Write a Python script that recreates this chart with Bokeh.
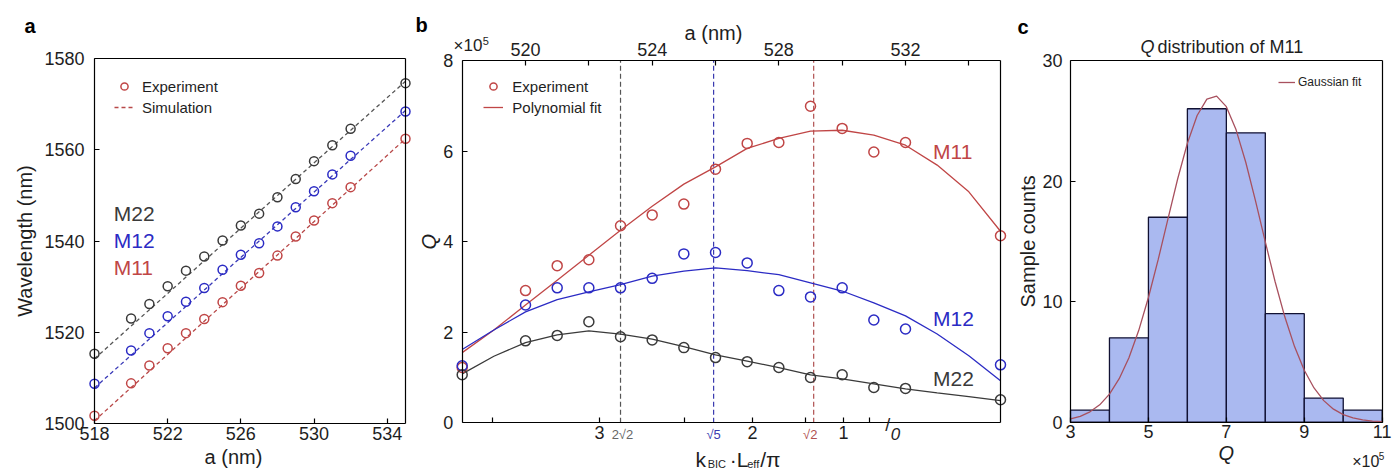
import math
from bokeh.plotting import figure
from bokeh.layouts import row
from bokeh.models import Label, Legend, LegendItem, LinearAxis, FixedTicker, Range1d
from bokeh.embed import file_html
from bokeh.resources import INLINE

FONT = "Liberation Sans"
RED = "#c04646"
BLUE = "#2b2bc4"
DARK = "#3a3a3a"
TXT = "#1e1e1e"

# ---------------- panel a : resonance wavelength vs lattice constant
a_nm = [518, 520, 521, 522, 523, 524, 525, 526, 527, 528, 529, 530, 531, 532, 535]
wl_m22 = [1515.3, 1523.0, 1526.2, 1530.1, 1533.5, 1536.6, 1540.1, 1543.4, 1546.0, 1549.6, 1553.6, 1557.5, 1561.0, 1564.6, 1574.6]
wl_m12 = [1508.7, 1516.0, 1519.8, 1523.5, 1526.7, 1529.7, 1533.7, 1537.0, 1539.5, 1543.2, 1547.4, 1550.9, 1554.6, 1558.7, 1568.4]
wl_m11 = [1501.7, 1508.8, 1512.7, 1516.5, 1519.8, 1522.9, 1526.6, 1530.2, 1533.0, 1536.8, 1541.0, 1544.5, 1548.3, 1551.8, 1562.4]
sim_a = [518, 535]
sim_m22 = [1514.2, 1575.0]
sim_m12 = [1507.8, 1568.6]
sim_m11 = [1500.6, 1562.4]
a_lim = [518, 535]
wl_lim = [1500, 1580]
a_ticks = [518, 522, 526, 530, 534]
wl_ticks = [1500, 1520, 1540, 1560, 1580]

# ---------------- panel b : Q factor (x1e5) vs lattice constant
q_m11 = [1.22, 2.92, 3.47, 3.60, 4.35, 4.59, 4.83, 5.60, 6.17, 6.19, 6.99, 6.50, 5.98, 6.19, 4.13]
q_m12 = [1.26, 2.60, 2.98, 2.98, 2.98, 3.19, 3.73, 3.76, 3.53, 2.92, 2.78, 2.98, 2.27, 2.07, 1.28]
q_m22 = [1.06, 1.81, 1.93, 2.23, 1.90, 1.83, 1.66, 1.44, 1.35, 1.22, 1.00, 1.06, 0.78, 0.76, 0.51]
fit_a = [518, 519, 520, 521, 522, 523, 524, 525, 526, 527, 528, 529, 530, 531, 532, 533, 534, 535]
fit_m11 = [1.55, 2.05, 2.60, 3.15, 3.70, 4.25, 4.78, 5.27, 5.65, 6.06, 6.28, 6.44, 6.46, 6.35, 6.13, 5.69, 5.10, 4.23]
fit_m12 = [1.62, 2.05, 2.45, 2.72, 2.89, 3.05, 3.24, 3.35, 3.42, 3.36, 3.27, 3.09, 2.91, 2.65, 2.36, 1.96, 1.48, 0.93]
fit_m22 = [1.08, 1.47, 1.77, 1.94, 2.03, 1.96, 1.85, 1.68, 1.50, 1.36, 1.22, 1.06, 0.97, 0.86, 0.75, 0.66, 0.58, 0.49]
q_lim = [0, 8]
q_ticks = [0, 2, 4, 6, 8]
top_ticks = [520, 522, 524, 526, 528, 530, 532, 534]
top_labels = ["520", "", "524", "", "528", "", "532", ""]
k_tick_pos = [518.95, 522.34, 525.03, 527.17, 528.83, 530.04, 530.86]
k_tick_labels = ["", "3", "", "2", "", "1", ""]
bic_a = [523.0, 525.94, 529.1]
bic_labels = ["2\u221a2", "\u221a5", "\u221a2"]

# ---------------- panel c : histogram of M11 Q (x1e5)
bin_left = [3, 4, 5, 6, 7, 8, 9, 10]
bin_right = [4, 5, 6, 7, 8, 9, 10, 11]
counts = [1, 7, 17, 26, 24, 9, 2, 1]
gauss_q = [3.0, 3.25, 3.5, 3.75, 4.0, 4.25, 4.5, 4.75, 5.0, 5.25, 5.5, 5.75, 6.0, 6.25, 6.5, 6.75,
           7.0, 7.25, 7.5, 7.75, 8.0, 8.25, 8.5, 8.75, 9.0, 9.25, 9.5, 9.75, 10.0, 10.25, 10.5, 10.75, 11.0]
gauss_n = [0.27, 0.49, 0.86, 1.44, 2.33, 3.61, 5.35, 7.60, 10.34, 13.48, 16.84, 20.17, 23.14, 25.44, 26.80, 27.05,
           26.17, 24.25, 21.54, 18.33, 14.95, 11.67, 8.74, 6.27, 4.31, 2.84, 1.79, 1.08, 0.63, 0.35, 0.19, 0.09, 0.05]
hq_lim = [3, 11]
cnt_lim = [0, 30]
hq_ticks = [3, 5, 7, 9, 11]
count_ticks = [0, 10, 20, 30]


def xrange_for(lim, px_lo, px_hi, width):
    s = (px_hi - px_lo) / (lim[1] - lim[0])
    return Range1d(lim[0] - px_lo / s, lim[1] + (width - px_hi) / s)


def yrange_for(lim, px_top, px_bottom, height):
    s = (px_bottom - px_top) / (lim[1] - lim[0])
    return Range1d(lim[0] - (height - px_bottom) / s, lim[1] + px_top / s)


def make_fig(width, xr, yr):
    p = figure(width=width, height=470, x_range=xr, y_range=yr, output_backend="svg",
               toolbar_location=None, min_border=0)
    p.title.visible = False
    p.xgrid.visible = False
    p.ygrid.visible = False
    p.outline_line_color = None
    p.background_fill_color = "white"
    p.border_fill_color = "white"
    return p


def style_axis(ax, ticks, fixed, bounds, standoff=4, labels=True):
    ax.ticker = FixedTicker(ticks=ticks, minor_ticks=[])
    ax.fixed_location = fixed
    ax.bounds = tuple(bounds)
    ax.axis_label = None
    ax.major_label_text_font = FONT
    ax.major_label_text_font_size = "18px" if labels else "0px"
    ax.major_label_text_color = TXT
    ax.axis_line_color = "black"
    ax.axis_line_width = 1.2
    ax.major_tick_in = 5
    ax.major_tick_out = 0
    ax.major_tick_line_color = "black"
    ax.major_tick_line_width = 1.2
    ax.minor_tick_line_color = None
    ax.major_label_standoff = standoff


def box_line(p, side, fixed, bounds):
    ax = LinearAxis()
    style_axis(ax, [], fixed, bounds, labels=False)
    p.add_layout(ax, side)
    return ax


def note(p, x, y, text, dx=0, dy=0, size="15px", color=TXT, style="normal",
         align="left", baseline="middle", angle=0.0):
    p.add_layout(Label(x=x, y=y, x_offset=dx, y_offset=dy, text=text, text_font=FONT,
                       text_font_size=size, text_color=color, text_font_style=style,
                       text_align=align, text_baseline=baseline, angle=angle))


def legend(items, loc, size, lh, gw, standoff):
    return Legend(items=items, location=loc, padding=0, margin=0, spacing=3,
                  label_height=lh, glyph_height=lh, glyph_width=gw, label_standoff=standoff,
                  border_line_alpha=0, background_fill_alpha=0,
                  label_text_font=FONT, label_text_font_size=size, label_text_color=TXT)


# ======================= panel a  (box: x 94..405, y 58..423 in a 415x470 canvas)
pa = make_fig(415, xrange_for(a_lim, 94, 405, 415), yrange_for(wl_lim, 58, 423, 470))
style_axis(pa.xaxis[0], a_ticks, wl_lim[0], a_lim, standoff=3)
style_axis(pa.yaxis[0], wl_ticks, a_lim[0], wl_lim, standoff=10)
box_line(pa, "above", wl_lim[1], a_lim)
box_line(pa, "right", a_lim[1], wl_lim)

pa.line(sim_a, sim_m22, color="#555555", line_dash="4 3", line_width=1.3)
pa.line(sim_a, sim_m12, color="#3a3ab8", line_dash="4 3", line_width=1.3)
sim11 = pa.line(sim_a, sim_m11, color="#b84848", line_dash="4 3", line_width=1.3)
pa.scatter(a_nm, wl_m22, marker="circle", size=9, fill_alpha=0, line_color=DARK, line_width=1.5)
pa.scatter(a_nm, wl_m12, marker="circle", size=9, fill_alpha=0, line_color=BLUE, line_width=1.5)
exp11 = pa.scatter(a_nm, wl_m11, marker="circle", size=9, fill_alpha=0, line_color=RED, line_width=1.5)

pa.add_layout(legend([LegendItem(label="Experiment", renderers=[exp11]),
                      LegendItem(label="Simulation", renderers=[sim11])],
                     (114, 354), "15px", 18, 20, 8))

note(pa, 519.05, 1546.0, "M22", size="21px", color=DARK)
note(pa, 519.05, 1540.1, "M12", size="21px", color=BLUE)
note(pa, 519.05, 1534.2, "M11", size="21px", color=RED)
note(pa, 518, 1500, "a (nm)", dx=139, dy=-33, size="20px", align="center")
note(pa, 518, 1540, "Wavelength (nm)", dx=-70, size="20px", align="center", angle=math.pi / 2)
note(pa, 518, 1580, "a", dx=-70, dy=33, size="20px", style="bold", color="black")

# ======================= panel b  (box: x 46.7..585, y 60..422.3 in a 595x470 canvas)
pb = make_fig(595, xrange_for(a_lim, 46.7, 585, 595), yrange_for(q_lim, 60, 422.3, 470))
bx = pb.xaxis[0]
style_axis(bx, k_tick_pos, q_lim[0], a_lim, standoff=3)
bx.major_label_overrides = {k: v for k, v in zip(k_tick_pos, k_tick_labels)}
style_axis(pb.yaxis[0], q_ticks, a_lim[0], q_lim, standoff=9)
top = LinearAxis()
style_axis(top, top_ticks, q_lim[1], a_lim, standoff=5)
top.major_label_overrides = {k: v for k, v in zip(top_ticks, top_labels)}
pb.add_layout(top, "above")
box_line(pb, "right", a_lim[1], q_lim)

bic_colors = ["#555555", "#3a3ab0", "#b05050"]
pb.segment(x0=bic_a, y0=[q_lim[0]] * len(bic_a), x1=bic_a, y1=[q_lim[1]] * len(bic_a),
           line_color=bic_colors, line_dash="5 3", line_width=1.2)

fit11 = pb.line(fit_a, fit_m11, color=RED, line_width=1.3)
pb.line(fit_a, fit_m12, color=BLUE, line_width=1.3)
pb.line(fit_a, fit_m22, color=DARK, line_width=1.3)
exp_b = pb.scatter(a_nm, q_m11, marker="circle", size=10, fill_alpha=0, line_color=RED, line_width=1.5)
pb.scatter(a_nm, q_m12, marker="circle", size=10, fill_alpha=0, line_color=BLUE, line_width=1.5)
pb.scatter(a_nm, q_m22, marker="circle", size=10, fill_alpha=0, line_color=DARK, line_width=1.5)

pb.add_layout(legend([LegendItem(label="Experiment", renderers=[exp_b]),
                      LegendItem(label="Polynomial fit", renderers=[fit11])],
                     (68.3, 354), "15px", 18, 20, 9))

note(pb, 532.87, 6.0, "M11", size="21px", color=RED)
note(pb, 532.87, 2.31, "M12", size="21px", color=BLUE)
note(pb, 532.87, 0.97, "M22", size="21px", color=DARK)

# coloured special tick labels and the axis break
note(pb, 523.06, 0, bic_labels[0], dy=-12, size="13px", color="#666666", align="center")
note(pb, bic_a[1], 0, bic_labels[1], dy=-12, size="13px", color="#3a3ab0", align="center")
note(pb, 528.99, 0, bic_labels[2], dy=-12, size="13px", color="#b05050", align="center")
note(pb, 531.44, 0, "/", dy=-2, size="18px", color=TXT, align="center")
note(pb, 531.68, 0, "0", dy=-11, size="17px", color=TXT, style="italic", align="center")

# bottom axis label  k_BIC . L_eff / pi
note(pb, 518, 0, "k", dx=233.3, dy=-37, size="21px", baseline="alphabetic")
note(pb, 518, 0, "BIC", dx=245.5, dy=-41, size="11px", baseline="alphabetic")
note(pb, 518, 0, "\u00b7L", dx=267.5, dy=-37, size="21px", baseline="alphabetic")
note(pb, 518, 0, "eff", dx=285.0, dy=-41, size="11px", baseline="alphabetic")
note(pb, 518, 0, "/\u03c0", dx=298.0, dy=-37, size="21px", baseline="alphabetic")

note(pb, 518, 4, "Q", dx=-33, size="20px", style="italic", align="center", angle=math.pi / 2)
note(pb, 518, 8, "a (nm)", dx=251.3, dy=28, size="20px", align="center")
note(pb, 518, 8, "\u00d710", dx=-8.7, dy=15, size="17px")
note(pb, 518, 8, "5", dx=20.5, dy=20, size="11px")
note(pb, 518, 8, "b", dx=-46.7, dy=36, size="20px", style="bold", color="black")

# ======================= panel c  (box: x 60..371.7, y 60..421.7 in a 382x470 canvas)
pc = make_fig(382, xrange_for(hq_lim, 60, 371.7, 382), yrange_for(cnt_lim, 60, 421.7, 470))
style_axis(pc.xaxis[0], hq_ticks, cnt_lim[0], hq_lim, standoff=3)
style_axis(pc.yaxis[0], count_ticks, hq_lim[0], cnt_lim, standoff=8)
box_line(pc, "above", cnt_lim[1], hq_lim)
box_line(pc, "right", hq_lim[1], cnt_lim)

pc.quad(left=bin_left, right=bin_right, bottom=0, top=counts,
        fill_color="#aab9f0", line_color="#111133", line_width=1.3)
gfit = pc.line(gauss_q, gauss_n, color="#a8505e", line_width=1.3)

pc.add_layout(legend([LegendItem(label="Gaussian fit", renderers=[gfit])],
                     (268, 380), "12px", 16, 17, 3))

note(pc, 3, 30, "Q", dx=70, dy=14, size="18px", style="italic")
note(pc, 3, 30, "distribution of M11", dx=87, dy=14, size="18px")
note(pc, 7, 0, "Q", dy=-31, size="20px", style="italic", align="center")
note(pc, 3, 15, "Sample counts", dx=-43, size="20px", align="center", angle=math.pi / 2)
note(pc, 11, 0, "\u00d710", dx=-30, dy=-39, size="16px")
note(pc, 11, 0, "5", dx=-3.5, dy=-34, size="10px")
note(pc, 3, 30, "c", dx=-53, dy=34, size="20px", style="bold", color="black")

layout = row(pa, pb, pc)
open("out.html", "w").write(file_html(layout, INLINE))
